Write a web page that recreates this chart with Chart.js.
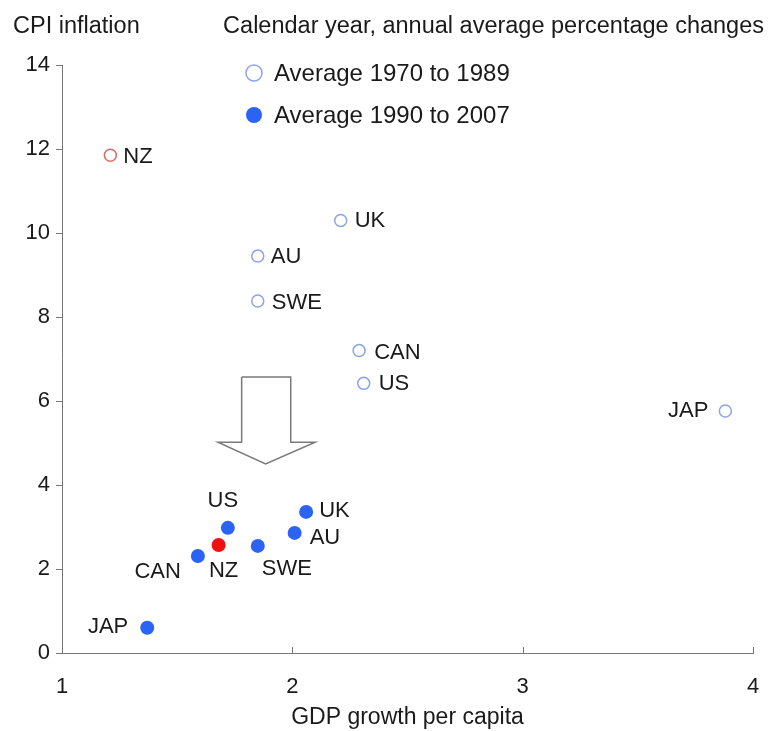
<!DOCTYPE html>
<html lang="en">
<head>
  <meta charset="UTF-8" />
  <title>CPI inflation vs GDP growth</title>
  <script src="https://cdn.jsdelivr.net/npm/chart.js"></script>
  <style>
    html, body { margin: 0; padding: 0; background: #fff; }
    #wrap { width: 769px; height: 731px; }
  </style>
</head>
<body>
<div id="wrap"><canvas id="scatterChart" width="769" height="731"></canvas></div>

<script>
  // data
  const countries = ["NZ", "UK", "AU", "SWE", "CAN", "US", "JAP"];
  const gdp7089 = [1.21, 2.21, 1.85, 1.85, 2.29, 2.31, 3.88];
  const cpi7089 = [11.85, 10.3, 9.45, 8.38, 7.2, 6.42, 5.76];
  const gdp9007 = [1.68, 2.06, 2.01, 1.85, 1.59, 1.72, 1.37];
  const cpi9007 = [2.57, 3.36, 2.86, 2.55, 2.31, 2.98, 0.6];
  const xTicks = [1, 2, 3, 4];
  const yTicks = [0, 2, 4, 6, 8, 10, 12, 14];
  // outline of the down arrow, in axis units
  const arrowX = [1.780, 1.993, 1.993, 2.099, 1.884, 1.677, 1.780, 1.780];
  const arrowY = [6.57, 6.57, 5.02, 5.02, 4.50, 5.02, 5.02, 6.57];

  const BLUE = "#2b63f5";
  const BLUE_OPEN = "#8ea3ea";
  const RED = "#f01010";
  const RED_OPEN = "#d66a6a";
  const FONT = "'Liberation Sans', Arial, sans-serif";
  const SIZE = 22;
  const INK = "#1a1a1a";

  // label placement: [dx, dy, align]
  const labelPos = {
    old: {
      NZ: [13, 2, "left"], UK: [14, 1, "left"], AU: [13, 1, "left"], SWE: [14, 2, "left"],
      CAN: [15, 2, "left"], US: [15, 1, "left"], JAP: [-17, 0, "right"]
    },
    recent: {
      US: [-5, -27, "center"], UK: [13, -1, "left"], AU: [15, 5, "left"], NZ: [5, 26, "center"],
      SWE: [4, 23, "left"], CAN: [-17, 16, "right"], JAP: [-19, -1, "right"]
    }
  };

  const pts = (xs, ys) => xs.map((x, i) => ({ x: x, y: ys[i] }));

  const ctx = document.getElementById("scatterChart").getContext("2d");

  const pointLabels = {
    id: "pointLabels",
    afterDatasetsDraw(chart) {
      const c = chart.ctx;
      c.save();
      c.font = SIZE + "px " + FONT;
      c.fillStyle = INK;
      c.textBaseline = "middle";
      chart.data.datasets.forEach((ds, di) => {
        if (!ds.key) return;
        const meta = chart.getDatasetMeta(di);
        meta.data.forEach((el, i) => {
          const name = countries[i];
          const p = labelPos[ds.key][name];
          c.textAlign = p[2];
          c.fillText(name, el.x + p[0], el.y + p[1]);
        });
      });
      c.restore();
    }
  };

  const decorations = {
    id: "decorations",
    afterDraw(chart) {
      const c = chart.ctx;
      const area = chart.chartArea;
      const xs = chart.scales.x;
      c.save();
      // header texts
      c.font = "23.5px " + FONT;
      c.fillStyle = INK;
      c.textBaseline = "middle";
      c.textAlign = "left";
      c.fillText("CPI inflation", 13, 27);
      c.textAlign = "right";
      c.fillText("Calendar year, annual average percentage changes", 764, 27);

      // x ticks pointing up into the plot
      c.strokeStyle = "#777";
      c.lineWidth = 1;
      xTicks.forEach(v => {
        const px = Math.round(xs.getPixelForValue(v)) + 0.5;
        c.beginPath();
        c.moveTo(px, area.bottom);
        c.lineTo(px, area.bottom - 6);
        c.stroke();
      });

      // legend
      const legend = chart.data.datasets.filter(d => d.key);
      legend.forEach((ds, k) => {
        const cy = 73 + k * 42;
        const cx = 254;
        c.beginPath();
        c.arc(cx, cy, 8, 0, Math.PI * 2);
        if (ds.key === "recent") {
          c.fillStyle = BLUE;
          c.fill();
        } else {
          c.fillStyle = "#fff";
          c.fill();
          c.strokeStyle = BLUE_OPEN;
          c.lineWidth = 1.5;
          c.stroke();
        }
        c.font = "24px " + FONT;
        c.fillStyle = INK;
        c.textAlign = "left";
        c.fillText(ds.label, 274, cy + 1);
      });
      c.restore();
    }
  };

  new Chart(ctx, {
    type: "scatter",
    data: {
      datasets: [
        {
          label: "arrow",
          data: pts(arrowX, arrowY),
          showLine: true,
          borderColor: "#7a7a7a",
          borderWidth: 1.5,
          pointRadius: 0,
          fill: false,
          tension: 0
        },
        {
          key: "old",
          label: "Average 1970 to 1989",
          data: pts(gdp7089, cpi7089),
          pointRadius: 6,
          pointBorderWidth: 1.5,
          backgroundColor: "#fff",
          borderColor: countries.map(n => n === "NZ" ? RED_OPEN : BLUE_OPEN)
        },
        {
          key: "recent",
          label: "Average 1990 to 2007",
          data: pts(gdp9007, cpi9007),
          pointRadius: 7,
          pointBorderWidth: 0,
          backgroundColor: countries.map(n => n === "NZ" ? RED : BLUE),
          borderColor: countries.map(n => n === "NZ" ? RED : BLUE)
        }
      ]
    },
    options: {
      responsive: false,
      animation: false,
      layout: { padding: { top: 65, right: 16, left: 0, bottom: 0 } },
      plugins: {
        legend: { display: false },
        tooltip: { enabled: false }
      },
      scales: {
        x: {
          type: "linear",
          min: 1,
          max: 4,
          afterBuildTicks: s => { s.ticks = xTicks.map(v => ({ value: v })); },
          afterFit: s => { s.height = 78; s.paddingLeft = 0; s.paddingRight = 0; },
          grid: { display: false, drawTicks: false },
          border: { display: true, color: "#777", width: 1 },
          ticks: { padding: 21, color: INK, font: { family: FONT, size: SIZE } },
          title: {
            display: true,
            text: "GDP growth per capita",
            color: INK,
            font: { family: FONT, size: 23 },
            padding: { top: 0, bottom: 0 }
          }
        },
        y: {
          type: "linear",
          min: 0,
          max: 14,
          afterBuildTicks: s => { s.ticks = yTicks.map(v => ({ value: v })); },
          afterFit: s => { s.width = 62; s.paddingTop = 0; s.paddingBottom = 0; },
          grid: { drawOnChartArea: false, drawTicks: true, tickLength: 6, color: "#777" },
          border: { display: true, color: "#777", width: 1 },
          ticks: { padding: 6, color: INK, font: { family: FONT, size: SIZE } }
        }
      }
    },
    plugins: [pointLabels, decorations]
  });
</script>
</body>
</html>
